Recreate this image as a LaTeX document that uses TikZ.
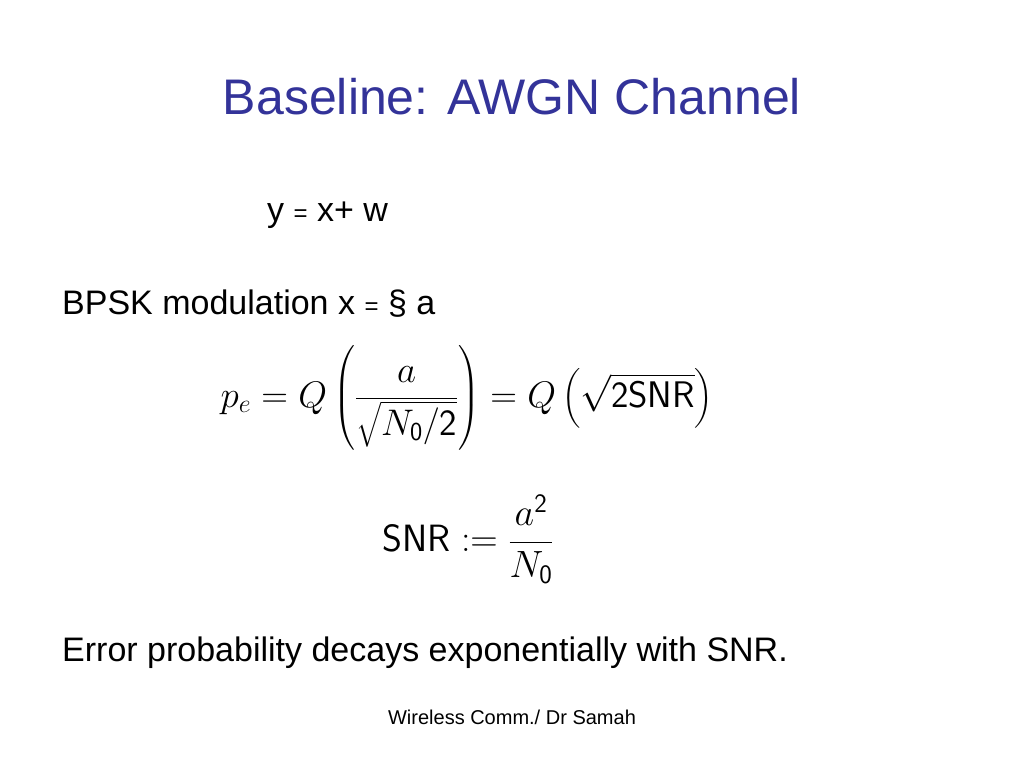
\documentclass[tikz,border=0pt]{standalone}
\usepackage{fix-cm}
\usepackage{amsmath}
\usepackage{fontspec}
\setmainfont{Liberation Sans}
\definecolor{ttl}{RGB}{51,51,153}
\begin{document}
\begin{tikzpicture}[x=1pt,y=-1pt,
  txt/.style={inner sep=0pt,anchor=base west,font=\fontsize{34}{40}\selectfont}]
\useasboundingbox (0,0) rectangle (1024,768);
\node[inner sep=0pt,anchor=base,text=ttl,font=\fontsize{50}{60}\selectfont] (title) at (512,114) {Baseline: AWGN Channel};
\node[txt] (eq1) at (267,221) {y {\fontsize{24}{28}\selectfont=} x+ w};
\node[txt] (bpsk) at (62,314) {BPSK modulation x {\fontsize{24}{28}\selectfont=} § a};
\node[inner sep=0pt,font=\fontsize{37}{44}\selectfont] (pe) at (467,398)
  {$p_e = Q\left(\dfrac{a}{\sqrt{N_{\mathsf{0}}/\mathsf{2}}}\right) = Q\left(\sqrt{\mathsf{2SNR}}\right)$};
\node[inner sep=0pt,font=\fontsize{38}{46}\selectfont] (snr) at (468,539)
  {$\mathsf{SNR} := \dfrac{a^{\mathsf{2}}}{N_{\mathsf{0}}}$};
\node[txt] (err) at (62,661) {Error probability decays exponentially with SNR.};
\node[inner sep=0pt,anchor=base,font=\fontsize{20}{24}\selectfont] (foot) at (512,724) {Wireless Comm./ Dr Samah};
\end{tikzpicture}
\end{document}
